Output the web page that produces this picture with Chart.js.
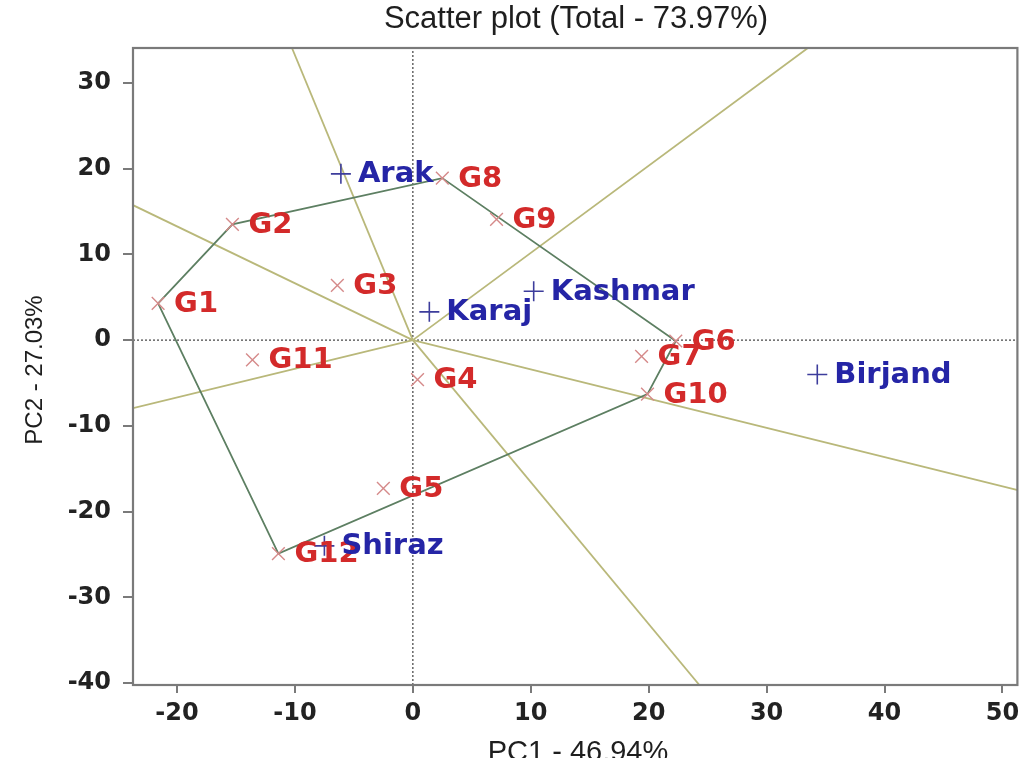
<!DOCTYPE html>
<html>
<head>
<meta charset="utf-8">
<script src="https://cdn.jsdelivr.net/npm/chart.js@4.4.1/dist/chart.umd.min.js"></script>
<style>
  html, body { margin: 0; padding: 0; background: #ffffff; }
  #wrap { width: 1029px; height: 758px; position: relative; }
</style>
</head>
<body>
<div id="wrap"><canvas id="c" width="1029" height="758"></canvas></div>
<script>
// ---------------- data ----------------
const chartTitle = 'Scatter plot (Total - 73.97%)';
const xTitle = 'PC1 - 46.94%';
const yTitle = 'PC2 - 27.03%';

const genotypeNames = ['G1','G2','G3','G4','G5','G6','G7','G8','G9','G10','G11','G12'];
const genotypePC1   = [-21.6, -15.3, -6.4, 0.4, -2.5, 22.3, 19.4, 2.5, 7.1, 19.9, -13.6, -11.4];
const genotypePC2   = [4.3, 13.5, 6.4, -4.6, -17.3, -0.1, -1.9, 18.9, 14.1, -6.3, -2.3, -24.9];

const envNames = ['Arak','Karaj','Kashmar','Birjand','Shiraz'];
const envPC1   = [-6.1, 1.4, 10.25, 34.3, -7.5];
const envPC2   = [19.4, 3.3, 5.7, -4.0, -24.0];

// polygon (convex hull) vertices, by genotype name
const hullOrder = ['G1','G2','G8','G6','G10','G12','G1'];

// sector rays from the origin: end points (PC1, PC2) read where they leave the plot
const rayEndPC1 = [-10.25, 33.5, 51.3, 24.3, -23.73, -23.73];
const rayEndPC2 = [34.08, 34.08, -17.5, -40.23, -7.93, 15.75];

const xTicks = [-20, -10, 0, 10, 20, 30, 40, 50];
const yTicks = [30, 20, 10, 0, -10, -20, -30, -40];
const xRange = [-23.73, 51.27];
const yRange = [-40.23, 34.08];

// ---------------- build datasets ----------------
const genoPoints = genotypeNames.map((n, i) => ({x: genotypePC1[i], y: genotypePC2[i]}));
const envPoints = envNames.map((n, i) => ({x: envPC1[i], y: envPC2[i]}));
const hullPoints = hullOrder.map(n => {
  const i = genotypeNames.indexOf(n);
  return {x: genotypePC1[i], y: genotypePC2[i]};
});

const datasets = [];
datasets.push({
  label: 'Environments', data: envPoints, type: 'scatter',
  pointStyle: 'cross', pointRadius: 10, pointBorderWidth: 1.6,
  borderColor: '#3d3d9c', backgroundColor: '#3d3d9c', showLine: false
});
datasets.push({
  label: 'Genotypes', data: genoPoints, type: 'scatter',
  pointStyle: 'crossRot', pointRadius: 9, pointBorderWidth: 1.4,
  borderColor: '#d58a8a', backgroundColor: '#d58a8a', showLine: false
});
datasets.push({
  label: 'Hull', data: hullPoints, type: 'line',
  borderColor: '#5d7f62', borderWidth: 1.8, pointRadius: 0, fill: false, tension: 0
});
rayEndPC1.forEach((x, i) => {
  datasets.push({
    label: 'Ray' + i, data: [{x: 0, y: 0}, {x: x, y: rayEndPC2[i]}], type: 'line',
    borderColor: '#b9b87a', borderWidth: 1.8, pointRadius: 0, fill: false
  });
});
datasets.push({
  label: 'x0', data: [{x: 0, y: yRange[0]}, {x: 0, y: yRange[1]}], type: 'line',
  borderColor: '#666', borderWidth: 1.5, borderDash: [2, 2], pointRadius: 0, fill: false
});
datasets.push({
  label: 'y0', data: [{x: xRange[0], y: 0}, {x: xRange[1], y: 0}], type: 'line',
  borderColor: '#666', borderWidth: 1.5, borderDash: [2, 2], pointRadius: 0, fill: false
});

// ---------------- plugins ----------------
const framePlugin = {
  id: 'frame',
  afterDraw(chart) {
    const {ctx, chartArea: a} = chart;
    ctx.save();
    ctx.strokeStyle = '#7a7a7a';
    ctx.lineWidth = 2.2;
    ctx.strokeRect(a.left, a.top, a.right - a.left, a.bottom - a.top);
    ctx.restore();
  }
};

const labelPlugin = {
  id: 'pointLabels',
  afterDatasetsDraw(chart) {
    const {ctx} = chart;
    const xs = chart.scales.x, ys = chart.scales.y;
    ctx.save();
    ctx.font = 'bold 29px "DejaVu Sans"';
    ctx.textBaseline = 'middle';
    ctx.textAlign = 'left';
    ctx.fillStyle = '#d32a2a';
    genotypeNames.forEach((n, i) => {
      ctx.fillText(n, xs.getPixelForValue(genotypePC1[i]) + 16, ys.getPixelForValue(genotypePC2[i]) + 1);
    });
    ctx.fillStyle = '#2525a6';
    envNames.forEach((n, i) => {
      ctx.fillText(n, xs.getPixelForValue(envPC1[i]) + 17, ys.getPixelForValue(envPC2[i]) + 1);
    });
    ctx.restore();
  }
};

const titlePlugin = {
  id: 'titles',
  afterDraw(chart) {
    const {ctx} = chart;
    ctx.save();
    ctx.fillStyle = '#1e1e1e';
    ctx.textAlign = 'center';
    ctx.textBaseline = 'middle';
    ctx.font = '31px "Liberation Sans"';
    ctx.fillText(chartTitle, 576, 19);
    ctx.font = '29px "Liberation Sans"';
    ctx.fillText(xTitle, 578, 753);
    ctx.translate(35, 370);
    ctx.rotate(-Math.PI / 2);
    ctx.font = '24px "Liberation Sans"';
    ctx.fillText(yTitle, 0, 0);
    ctx.restore();
  }
};

// ---------------- chart ----------------
new Chart(document.getElementById('c'), {
  type: 'scatter',
  data: { datasets },
  options: {
    responsive: false,
    animation: false,
    devicePixelRatio: 1,
    layout: { padding: { top: 48, right: 11, left: 0, bottom: 0 } },
    plugins: { legend: { display: false }, tooltip: { enabled: false }, title: { display: false } },
    scales: {
      x: {
        type: 'linear', min: xRange[0], max: xRange[1],
        afterBuildTicks: s => { s.ticks = xTicks.map(v => ({value: v})); },
        afterFit: s => { s.height = 73; },
        grid: { drawOnChartArea: false, drawTicks: true, tickLength: 8, color: '#7a7a7a', lineWidth: 2 },
        border: { display: false },
        ticks: { color: '#222', font: { family: '"DejaVu Sans"', size: 24, weight: 'bold' }, padding: 6, maxRotation: 0, autoSkip: false }
      },
      y: {
        type: 'linear', min: yRange[0], max: yRange[1],
        afterBuildTicks: s => { s.ticks = yTicks.map(v => ({value: v})); },
        afterFit: s => { s.width = 133; },
        grid: { drawOnChartArea: false, drawTicks: true, tickLength: 10, color: '#7a7a7a', lineWidth: 2 },
        border: { display: false },
        ticks: { color: '#222', font: { family: '"DejaVu Sans"', size: 24, weight: 'bold' }, padding: 12, autoSkip: false }
      }
    }
  },
  plugins: [framePlugin, labelPlugin, titlePlugin]
});
</script>
</body>
</html>
